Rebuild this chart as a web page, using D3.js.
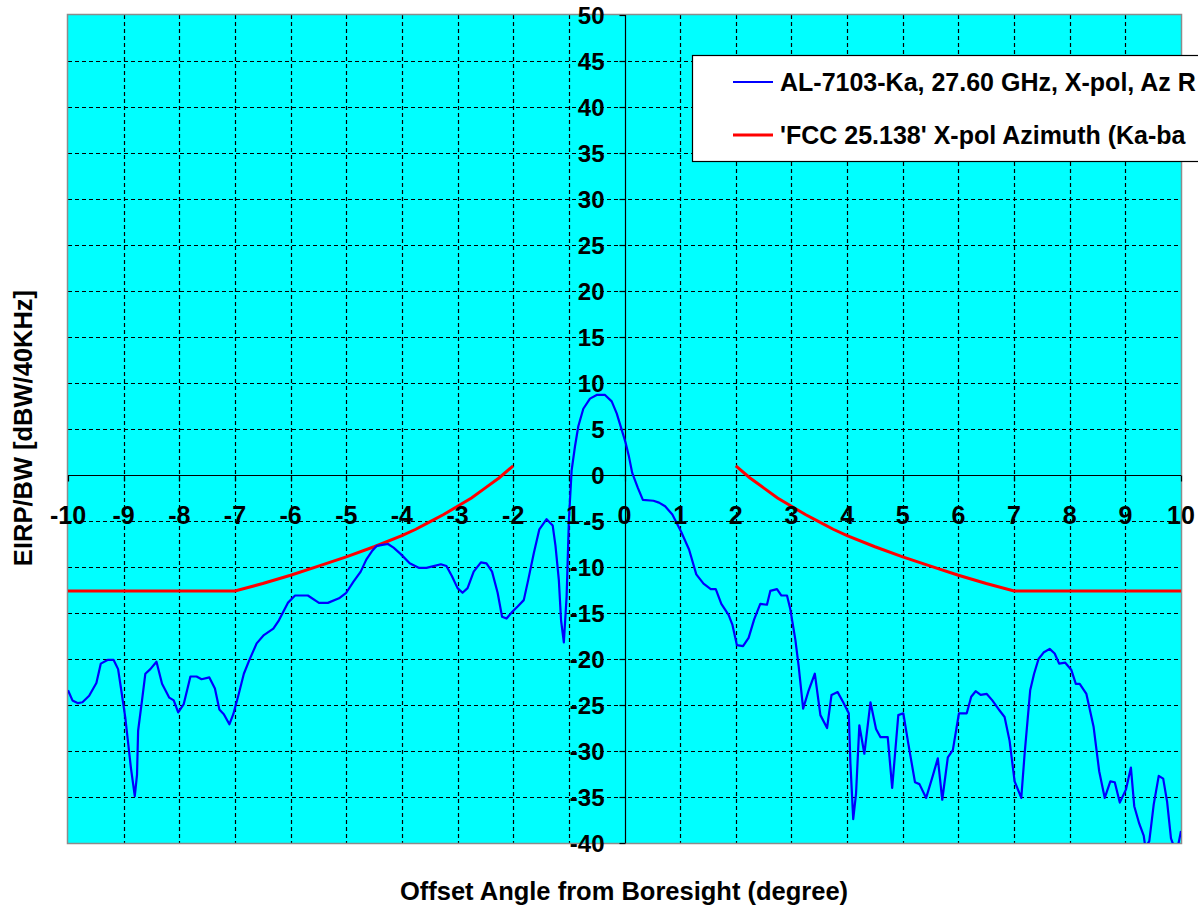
<!DOCTYPE html>
<html>
<head>
<meta charset="utf-8">
<script src="https://cdn.jsdelivr.net/npm/d3@7"></script>
<style>
  html, body { margin: 0; padding: 0; background: #ffffff; }
  svg { display: block; }
  text { font-family: "Liberation Sans", Arial, sans-serif; font-weight: bold; fill: #000; }
</style>
</head>
<body>
<svg id="chart" width="1198" height="910"></svg>
<script>
// ---------- data ----------
const xTicks = [-10,-9,-8,-7,-6,-5,-4,-3,-2,-1,0,1,2,3,4,5,6,7,8,9,10];
const yTicks = [-40,-35,-30,-25,-20,-15,-10,-5,0,5,10,15,20,25,30,35,40,45,50];

// legend texts, as far as they are visible in the picture (cut at the right edge)
const seriesNames = [
  "AL-7103-Ka, 27.60 GHz, X-pol, Az R",
  "'FCC 25.138' X-pol Azimuth (Ka-ba"
];

// measured X-pol pattern (offset angle, deg)
const measAngle = [
  -10.0,-9.92,-9.82,-9.74,-9.62,-9.49,-9.41,-9.29,-9.18,-9.10,-9.05,-8.97,-8.87,-8.80,-8.76,-8.74,-8.67,-8.61,-8.52,-8.41,
  -8.31,-8.18,-8.10,-8.02,-7.92,-7.80,-7.69,-7.60,-7.46,-7.36,-7.28,-7.20,-7.10,-7.03,-6.94,-6.84,-6.74,-6.61,-6.48,-6.31,
  -6.21,-6.05,-5.92,-5.69,-5.49,-5.33,-5.13,-5.00,-4.87,-4.74,-4.64,-4.54,-4.45,-4.35,-4.25,-4.15,-4.02,-3.86,-3.69,-3.56,
  -3.43,-3.30,-3.20,-3.10,-3.00,-2.91,-2.82,-2.71,-2.58,-2.48,-2.38,-2.28,-2.20,-2.12,-2.02,-1.92,-1.81,-1.73,-1.63,-1.53,
  -1.40,-1.29,-1.24,-1.18,-1.14,-1.09,-1.04,-1.00,-0.95,-0.89,-0.83,-0.74,-0.62,-0.50,-0.35,-0.23,-0.14,-0.05,0.02,0.08,
  0.14,0.24,0.33,0.52,0.62,0.73,0.86,1.02,1.16,1.29,1.42,1.55,1.64,1.74,1.87,1.94,2.02,2.13,2.23,2.33,
  2.44,2.56,2.62,2.74,2.82,2.92,2.98,3.07,3.13,3.21,3.31,3.42,3.52,3.64,3.72,3.83,3.93,4.03,4.06,4.11,
  4.16,4.22,4.31,4.42,4.52,4.60,4.73,4.81,4.92,5.01,5.10,5.22,5.30,5.42,5.53,5.63,5.71,5.81,5.90,6.01,
  6.15,6.23,6.31,6.40,6.51,6.61,6.74,6.83,6.92,7.01,7.13,7.19,7.29,7.36,7.44,7.53,7.64,7.73,7.81,7.92,
  8.03,8.11,8.18,8.30,8.43,8.53,8.63,8.73,8.81,8.90,9.01,9.10,9.16,9.25,9.33,9.36,9.43,9.51,9.60,9.68,
  9.75,9.82,9.88,9.94,10.0
];
// measured EIRP/BW, dBW/40kHz
const measEirp = [
  -23.4,-24.5,-24.8,-24.7,-24.0,-22.6,-20.5,-20.1,-20.1,-21.1,-23.1,-26.4,-31.8,-34.9,-32.6,-27.8,-24.5,-21.6,-21.1,-20.3,
  -22.7,-24.2,-24.5,-25.8,-24.9,-21.9,-21.9,-22.2,-22.0,-23.2,-25.5,-26.0,-27.1,-26.0,-24.0,-21.6,-20.1,-18.3,-17.4,-16.7,
  -15.8,-13.9,-13.1,-13.1,-13.9,-13.9,-13.4,-12.8,-11.6,-10.5,-9.2,-8.3,-7.7,-7.6,-7.5,-7.9,-8.6,-9.6,-10.1,-10.1,
  -9.9,-9.7,-9.9,-11.0,-12.3,-12.8,-12.3,-10.5,-9.5,-9.6,-10.5,-12.8,-15.4,-15.6,-14.9,-14.3,-13.6,-11.4,-8.5,-5.9,
  -4.8,-5.5,-7.7,-11.4,-15.8,-18.2,-13.2,-5.0,0.5,3.1,5.3,7.2,8.3,8.7,8.7,8.0,6.7,4.9,3.5,2.0,
  0.2,-1.4,-2.7,-2.8,-3.0,-3.4,-4.3,-6.2,-8.1,-10.8,-11.8,-12.4,-12.4,-14.0,-15.2,-16.3,-18.5,-18.6,-17.7,-15.7,
  -14.0,-14.1,-12.6,-12.4,-13.1,-13.1,-14.6,-17.9,-20.8,-25.4,-23.4,-21.6,-26.1,-27.5,-23.9,-23.6,-24.7,-25.9,-31.4,-37.4,
  -34.7,-27.2,-30.3,-24.7,-27.6,-28.5,-28.5,-34.0,-26.1,-25.9,-29.2,-33.4,-33.6,-35.1,-32.9,-30.8,-35.3,-30.7,-29.9,-25.9,
  -25.9,-24.1,-23.5,-23.9,-23.8,-24.5,-25.6,-26.3,-28.9,-33.3,-35.1,-30.3,-23.4,-21.6,-20.0,-19.3,-18.9,-19.4,-20.5,-20.4,
  -21.2,-22.7,-22.7,-23.8,-27.4,-32.2,-35.1,-33.3,-33.4,-35.6,-34.2,-31.8,-36.0,-37.9,-39.2,-40.5,-39.8,-35.8,-32.7,-33.0,
  -35.5,-39.5,-40.5,-40.5,-38.7
];

// FCC 25.138 X-pol azimuth mask
const fccLeftAngle  = [-10, -7, -6.5, -6, -5.5, -5, -4.5, -4, -3.75, -3.5, -3.25, -3, -2.75, -2.5, -2.25, -2];
const fccLeftEirp   = [-12.6, -12.6, -11.8, -10.9, -9.9, -8.9, -7.8, -6.6, -5.9, -5.1, -4.3, -3.4, -2.5, -1.4, -0.3, 1.0];
const fccRightAngle = [2, 2.25, 2.5, 2.75, 3, 3.25, 3.5, 3.75, 4, 4.5, 5, 5.5, 6, 6.5, 7, 10];
const fccRightEirp  = [1.0, -0.3, -1.4, -2.5, -3.4, -4.3, -5.1, -5.9, -6.6, -7.8, -8.9, -9.9, -10.9, -11.8, -12.6, -12.6];

// ---------- layout ----------
const W = 1198, H = 910;
const plot = { left: 68, right: 1181, top: 15, bottom: 843 };

const svg = d3.select("#chart");
const x = d3.scaleLinear().domain([-10, 10]).range([plot.left, plot.right]);
const y = d3.scaleLinear().domain([-40, 50]).range([plot.bottom, plot.top]);

svg.append("rect").attr("x", 0).attr("y", 0).attr("width", W).attr("height", H).attr("fill", "#ffffff");

// plot background
svg.append("rect")
  .attr("x", plot.left).attr("y", plot.top)
  .attr("width", plot.right - plot.left).attr("height", plot.bottom - plot.top)
  .attr("fill", "#00ffff");

svg.append("clipPath").attr("id", "plotClip")
  .append("rect")
  .attr("x", plot.left).attr("y", plot.top)
  .attr("width", plot.right - plot.left).attr("height", plot.bottom - plot.top);

// gridlines
const grid = svg.append("g").attr("stroke", "#000").attr("stroke-width", 1.2).attr("stroke-dasharray", "4,3");
grid.selectAll("line.h").data(yTicks.filter(v => v !== 0 && v !== -40 && v !== 50)).join("line")
  .attr("x1", plot.left).attr("x2", plot.right)
  .attr("y1", d => Math.round(y(d)) + 0.5).attr("y2", d => Math.round(y(d)) + 0.5);
grid.selectAll("line.v").data(xTicks.filter(v => v !== 0 && v !== -10 && v !== 10)).join("line")
  .attr("y1", plot.top).attr("y2", plot.bottom)
  .attr("x1", d => Math.round(x(d)) + 0.5).attr("x2", d => Math.round(x(d)) + 0.5);

// plot border
svg.append("rect")
  .attr("x", plot.left - 0.5).attr("y", plot.top - 0.5)
  .attr("width", plot.right - plot.left + 1).attr("height", plot.bottom - plot.top + 1)
  .attr("fill", "none").attr("stroke", "#8c8c8c").attr("stroke-width", 1.5);

// axes through origin
const x0 = Math.round(x(0)) + 0.5, y0 = Math.round(y(0)) + 0.5;
svg.append("line").attr("x1", plot.left).attr("x2", plot.right).attr("y1", y0).attr("y2", y0)
  .attr("stroke", "#000").attr("stroke-width", 1.2);
svg.append("line").attr("x1", x0).attr("x2", x0).attr("y1", plot.top).attr("y2", plot.bottom)
  .attr("stroke", "#000").attr("stroke-width", 1.2);

// tick marks
svg.append("g").selectAll("line").data(yTicks).join("line")
  .attr("x1", x0 - 6).attr("x2", x0)
  .attr("y1", d => Math.round(y(d)) + 0.5).attr("y2", d => Math.round(y(d)) + 0.5)
  .attr("stroke", "#000").attr("stroke-width", 1.2);
svg.append("g").selectAll("line").data(xTicks).join("line")
  .attr("y1", y0).attr("y2", y0 + 6)
  .attr("x1", d => Math.round(x(d)) + 0.5).attr("x2", d => Math.round(x(d)) + 0.5)
  .attr("stroke", "#000").attr("stroke-width", 1.2);

// series
const line = d3.line().x(d => x(d[0])).y(d => y(d[1]));
const series = svg.append("g").attr("clip-path", "url(#plotClip)");
series.append("path")
  .datum(fccLeftAngle.map((a, i) => [a, fccLeftEirp[i]]))
  .attr("d", line).attr("fill", "none").attr("stroke", "#ff0000").attr("stroke-width", 3);
series.append("path")
  .datum(fccRightAngle.map((a, i) => [a, fccRightEirp[i]]))
  .attr("d", line).attr("fill", "none").attr("stroke", "#ff0000").attr("stroke-width", 3);
series.append("path")
  .datum(measAngle.map((a, i) => [a, measEirp[i]]))
  .attr("d", line).attr("fill", "none").attr("stroke", "#0000ff").attr("stroke-width", 2.2)
  .attr("stroke-linejoin", "round");

// tick labels
svg.append("g").selectAll("text").data(yTicks).join("text")
  .attr("x", x0 - 21).attr("y", d => y(d) + 8.5)
  .attr("text-anchor", "end").attr("font-size", 24)
  .text(d => d);
svg.append("g").selectAll("text").data(xTicks).join("text")
  .attr("x", d => x(d)).attr("y", y0 + 48)
  .attr("text-anchor", "middle").attr("font-size", 25)
  .text(d => d);

// axis titles
svg.append("text")
  .attr("x", 624).attr("y", 900)
  .attr("text-anchor", "middle").attr("font-size", 25.5)
  .text("Offset Angle from Boresight (degree)");
svg.append("text")
  .attr("transform", "translate(32,428) rotate(-90)")
  .attr("text-anchor", "middle").attr("font-size", 25.5)
  .text("EIRP/BW [dBW/40KHz]");

// legend
const lg = svg.append("g");
lg.append("rect").attr("x", 692.5).attr("y", 55.5).attr("width", 560).attr("height", 106)
  .attr("fill", "#ffffff").attr("stroke", "#000").attr("stroke-width", 1.2);
const legendColors = ["#0000ff", "#ff0000"];
const legendY = [82, 135];
seriesNames.forEach((name, i) => {
  lg.append("line").attr("x1", 733).attr("x2", 773).attr("y1", legendY[i]).attr("y2", legendY[i])
    .attr("stroke", legendColors[i]).attr("stroke-width", i === 0 ? 2 : 3);
  lg.append("text").attr("x", 780).attr("y", legendY[i] + 8.5).attr("font-size", 25).text(name);
});
</script>
</body>
</html>
